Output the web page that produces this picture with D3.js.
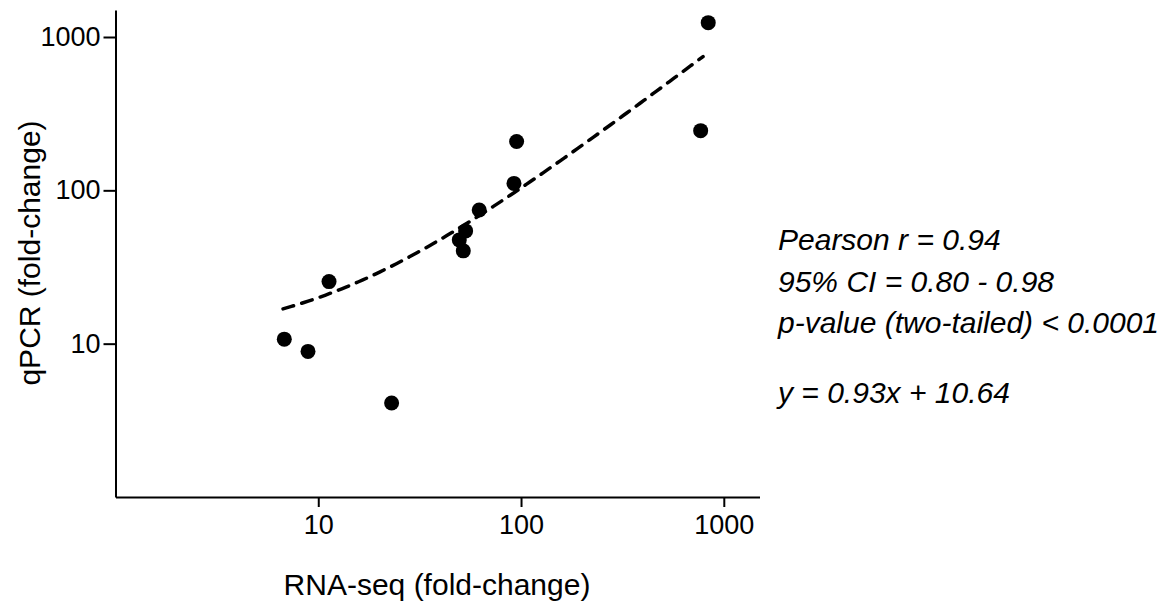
<!DOCTYPE html>
<html>
<head>
<meta charset="utf-8">
<script src="https://cdn.jsdelivr.net/npm/d3@7"></script>
<style>
  body { margin: 0; background: #fff; }
  text { font-family: Arial, "Liberation Sans", sans-serif; fill: #000; }
</style>
</head>
<body>
<div id="my_dataviz"></div>
<script>
// values (fold-change, log axes)
var rnaSeq = [6.8, 8.9, 11.3, 23.0, 49.6, 51.9, 53.3, 62.2, 92.3, 95.1, 769, 838];
var qpcr   = [10.7, 8.9, 25.4, 4.1, 47.5, 40.3, 54.4, 74.5, 111, 208, 245, 1240];
var tickValues = [10, 100, 1000];
var fitSlope = 0.93, fitIntercept = 10.64;
var fitRange = [6.7, 790];
var statLines = ["Pearson r = 0.94", "95% CI = 0.80 - 0.98", "p-value (two-tailed) < 0.0001"];
var eqLine = "y = 0.93x + 10.64";

var svg = d3.select("#my_dataviz")
  .append("svg")
    .attr("width", 1171)
    .attr("height", 604);

var x = d3.scaleLog()
  .domain([1, 1500])
  .range([115.5, 759.5]);

var y = d3.scaleLog()
  .domain([1, 1500])
  .range([497, 10]);

// x axis
var gx = svg.append("g")
  .attr("transform", "translate(0,497)")
  .call(d3.axisBottom(x).tickValues(tickValues).tickFormat(d3.format("d"))
    .tickSizeInner(10).tickSizeOuter(0).tickPadding(8));
gx.selectAll("text").style("font-size", "27px");

// y axis
var gy = svg.append("g")
  .attr("transform", "translate(115.5,0)")
  .call(d3.axisLeft(y).tickValues(tickValues).tickFormat(d3.format("d"))
    .tickSizeInner(12).tickSizeOuter(0).tickPadding(3));
gy.selectAll("text").style("font-size", "27px");

svg.selectAll(".domain, .tick line")
  .attr("stroke", "#000")
  .attr("stroke-width", 2);

// axis titles
svg.append("text")
  .attr("x", 437)
  .attr("y", 595)
  .attr("text-anchor", "middle")
  .style("font-size", "30px")
  .text("RNA-seq (fold-change)");

svg.append("text")
  .attr("transform", "translate(40,253) rotate(-90)")
  .attr("text-anchor", "middle")
  .style("font-size", "30px")
  .text("qPCR (fold-change)");

// regression line, drawn in linear space on log axes
var fitPts = d3.range(0, 101).map(function(i) {
  var lx = Math.log10(fitRange[0]) + (Math.log10(fitRange[1]) - Math.log10(fitRange[0])) * i / 100;
  var xv = Math.pow(10, lx);
  return [xv, fitSlope * xv + fitIntercept];
});

svg.append("path")
  .datum(fitPts)
  .attr("fill", "none")
  .attr("stroke", "#000")
  .attr("stroke-width", 3.5)
  .attr("stroke-linecap", "round")
  .attr("stroke-dasharray", "11,8.5")
  .attr("d", d3.line()
    .x(function(d) { return x(d[0]); })
    .y(function(d) { return y(d[1]); }));

// points
svg.selectAll("mydots")
  .data(rnaSeq)
  .enter()
  .append("circle")
    .attr("cx", function(d) { return x(d); })
    .attr("cy", function(d, i) { return y(qpcr[i]); })
    .attr("r", 7.5)
    .attr("fill", "#000");

// stats annotation
var ann = svg.append("g").style("font-size", "30px").style("font-style", "italic");
ann.selectAll("text.stat")
  .data(statLines)
  .enter()
  .append("text")
    .attr("class", "stat")
    .attr("x", 778)
    .attr("y", function(d, i) { return 250 + i * 41.7; })
    .text(function(d) { return d; });
ann.append("text")
  .attr("x", 778)
  .attr("y", 403)
  .text(eqLine);
</script>
</body>
</html>
